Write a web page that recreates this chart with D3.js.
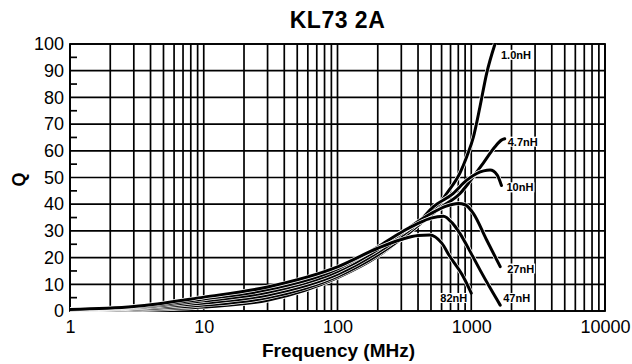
<!DOCTYPE html>
<html>
<head>
<meta charset="utf-8">
<script src="https://cdn.jsdelivr.net/npm/d3@7"></script>
<style>
  body { margin: 0; background: #fff; }
  text { font-family: "Liberation Sans", Arial, Helvetica, sans-serif; fill: #000; }
</style>
</head>
<body>
<script>
var w = 632;
var h = 364;

// data: [frequency MHz, Q]
var seriesNames = ["1.0nH", "4.7nH", "10nH", "27nH", "47nH", "82nH"];
var q1n0 = [[1,0.2],[3,0.5],[10,1.5],[30,4],[100,12.5],[200,20.5],[300,27],[414,33],[584,40.4],[655,44],[824,51.7],[925,57.8],[1036,65],[1162,76.5],[1304,89],[1505,100]];
var q4n7 = [[1,0.25],[3,0.7],[10,2.2],[30,5],[100,13],[200,21],[300,27],[400,32],[584,38.6],[824,44],[1036,50.3],[1230,55.4],[1505,61.5],[1680,64],[1780,64.5]];
var q10n = [[1,0.3],[3,1],[10,3],[30,6],[100,13.8],[200,22],[300,28],[400,33],[520,39],[731,44],[925,49],[1100,51.5],[1383,52.8],[1560,51],[1682,47]];
var q27n = [[1,0.4],[3,1.2],[10,3.8],[30,7],[100,14.8],[200,23],[300,29],[400,33.5],[500,36.5],[650,39.3],[800,40.3],[900,39.8],[1036,36.6],[1304,26.6],[1646,16.6]];
var q47n = [[1,0.5],[3,1.5],[10,4.5],[30,8],[100,15.8],[200,24],[300,29.5],[400,32.8],[500,34.8],[620,35.5],[720,33],[824,29],[1000,21.5],[1162,15.4],[1400,8.2],[1646,2.2]];
var q82n = [[1,0.6],[3,1.7],[10,5.2],[30,9],[100,16.5],[200,23.5],[300,26.8],[400,28.3],[490,28.5],[600,25.5],[694,20.3],[872,12.8],[1000,6.7]];
var seriesValues = [q1n0, q4n7, q10n, q27n, q47n, q82n];

var freqTicks = [1, 10, 100, 1000, 10000];
var qTicks = [0, 10, 20, 30, 40, 50, 60, 70, 80, 90, 100];

// where each curve label sits, relative to the curve's last point
var labelOffsets = [[6, 11, "start"], [3, 3, "start"], [5, 2, "start"], [7, 2, "start"], [3, -7, "start"], [-4, 5, "end"]];

var pLeft = 70, pRight = 605, pTop = 44, pBottom = 311;

var svg = d3.select("body").append("svg")
    .attr("width", w)
    .attr("height", h);

var x = d3.scaleLog().domain([1, 10000]).range([pLeft, pRight]);
var y = d3.scaleLinear().domain([0, 100]).range([pBottom, pTop]);

// vertical grid, every 1..9 per decade
var minorFreqs = [];
for (var d = 1; d < 10000; d *= 10) {
  for (var k = 1; k < 10; k++) minorFreqs.push(d * k);
}
minorFreqs.push(10000);

var grid = svg.append("g");
grid.selectAll("line.v").data(minorFreqs).enter().append("line")
    .attr("class", "v")
    .attr("x1", function(f) { return x(f); })
    .attr("x2", function(f) { return x(f); })
    .attr("y1", pTop)
    .attr("y2", pBottom)
    .attr("stroke", "#000")
    .attr("stroke-width", 1.7);

grid.selectAll("line.h").data(qTicks).enter().append("line")
    .attr("class", "h")
    .attr("x1", pLeft)
    .attr("x2", pRight)
    .attr("y1", function(q) { return y(q); })
    .attr("y2", function(q) { return y(q); })
    .attr("stroke", "#000")
    .attr("stroke-width", 1.7);

// short ticks at the 5s on the left edge
grid.selectAll("line.m").data(d3.range(5, 100, 10)).enter().append("line")
    .attr("class", "m")
    .attr("x1", pLeft)
    .attr("x2", pLeft + 7)
    .attr("y1", function(q) { return y(q); })
    .attr("y2", function(q) { return y(q); })
    .attr("stroke", "#000")
    .attr("stroke-width", 1.7);

svg.append("rect")
    .attr("x", pLeft).attr("y", pTop)
    .attr("width", pRight - pLeft).attr("height", pBottom - pTop)
    .attr("fill", "none").attr("stroke", "#000").attr("stroke-width", 1.8);

// axes
var xAxis = svg.append("g")
    .attr("transform", "translate(0," + pBottom + ")")
    .call(d3.axisBottom(x).tickValues(freqTicks).tickFormat(d3.format("d")).tickSize(0).tickPadding(9));
var yAxis = svg.append("g")
    .attr("transform", "translate(" + pLeft + ",0)")
    .call(d3.axisLeft(y).tickValues(qTicks).tickSize(0).tickPadding(6));
[xAxis, yAxis].forEach(function(a) {
  a.select(".domain").remove();
  a.selectAll("text")
    .style("font-family", "'Liberation Sans', Arial, sans-serif")
    .style("font-size", "18px")
    .attr("fill", "#000");
});

// curves
svg.append("clipPath").attr("id", "plotclip")
    .append("rect").attr("x", pLeft).attr("y", pTop - 1).attr("width", pRight - pLeft).attr("height", pBottom - pTop + 2);

var line = d3.line()
    .x(function(p) { return x(p[0]); })
    .y(function(p) { return y(p[1]); })
    .curve(d3.curveMonotoneX);

var curves = svg.append("g").attr("clip-path", "url(#plotclip)");
seriesValues.forEach(function(vals) {
  curves.append("path")
      .attr("d", line(vals))
      .attr("fill", "none")
      .attr("stroke", "#fff")
      .attr("stroke-width", 4.4);
  curves.append("path")
      .attr("d", line(vals))
      .attr("fill", "none")
      .attr("stroke", "#000")
      .attr("stroke-width", 3)
      .attr("stroke-linecap", "round");
});

// curve labels with white boxes
seriesNames.forEach(function(name, i) {
  var last = seriesValues[i][seriesValues[i].length - 1];
  var off = labelOffsets[i];
  var g = svg.append("g");
  var t = g.append("text")
      .attr("x", x(last[0]) + off[0])
      .attr("y", y(last[1]) + off[1])
      .attr("dy", "0.35em")
      .attr("text-anchor", off[2])
      .style("font-size", "11px")
      .style("font-weight", "bold")
      .text(name);
  var bb = t.node().getBBox();
  g.insert("rect", "text")
      .attr("x", bb.x - 1).attr("y", bb.y + 1)
      .attr("width", bb.width + 2).attr("height", bb.height - 2)
      .attr("fill", "#fff");
});

// titles
svg.append("text")
    .attr("x", (pLeft + pRight) / 2)
    .attr("y", 28)
    .attr("text-anchor", "middle")
    .style("font-size", "23px")
    .style("font-weight", "bold")
    .style("letter-spacing", "0.5px")
    .text("KL73 2A");

svg.append("text")
    .attr("x", (pLeft + pRight) / 2 + 1)
    .attr("y", 357)
    .attr("text-anchor", "middle")
    .style("font-size", "19px")
    .style("font-weight", "bold")
    .text("Frequency (MHz)");

svg.append("text")
    .attr("transform", "translate(25," + ((pTop + pBottom) / 2 + 2) + ")rotate(-90)")
    .attr("text-anchor", "middle")
    .style("font-size", "18px")
    .style("font-weight", "bold")
    .text("Q");
</script>
</body>
</html>
